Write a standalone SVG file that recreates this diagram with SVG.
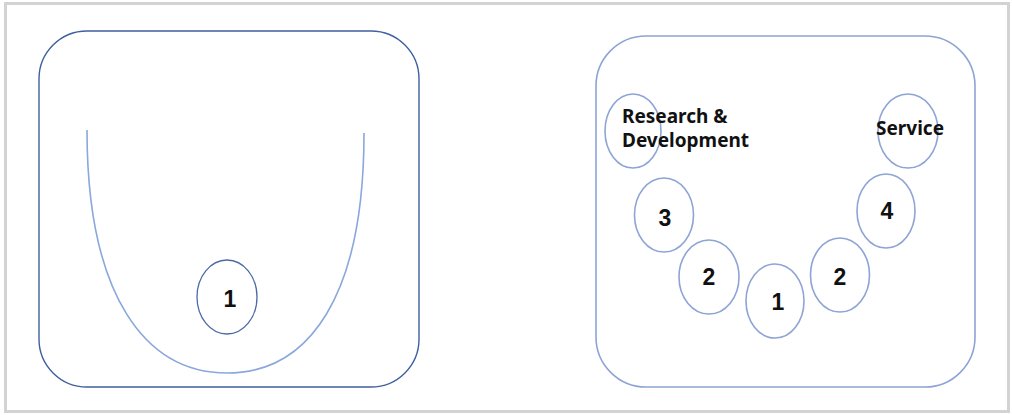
<svg xmlns="http://www.w3.org/2000/svg" width="1012" height="415" viewBox="0 0 1012 415">
<style>
.frame{fill:none;stroke:#d3d3d3;stroke-width:3}
.panelL{fill:#fff;stroke:#3f5f9f;stroke-width:1.4}
.panelR{fill:#fff;stroke:#8da4d4;stroke-width:1.6}
.curve{fill:none;stroke:#8aa8dc;stroke-width:1.6}
.circL{fill:none;stroke:#4d6aa6;stroke-width:1.3}
.circ{fill:none;stroke:#8da4d4;stroke-width:1.6}
.num{font-family:"Liberation Sans",Arial,sans-serif;font-weight:bold;font-size:23px;fill:#111;text-anchor:middle}
.lbl{font-family:"Noto Sans","Liberation Sans",sans-serif;font-weight:bold;font-size:19px;fill:#111}
</style>
<rect x="0" y="0" width="1012" height="415" fill="#fff"/>
<rect class="frame" x="5.5" y="3.5" width="1003" height="408"/>
<g id="left-panel">
<rect class="panelL" x="39" y="31" width="380" height="356" rx="48" ry="48"/>
<path class="curve" d="M87,130 C87,295 145,373 227,373 C310,373 364,295 364,133"/>
</g>
<g id="left-node-1">
<ellipse class="circL" cx="227" cy="297" rx="30" ry="37"/>
<text class="num" x="230" y="307">1</text>
</g>
<g id="right-panel">
<rect class="panelR" x="596" y="36" width="379" height="351" rx="50" ry="50"/>
</g>
<g id="node-rd">
<ellipse class="circ" cx="633" cy="131" rx="28" ry="37"/>
<text class="lbl" x="622" y="123">Research &amp;</text>
<text class="lbl" x="622" y="147">Development</text>
</g>
<g id="node-service">
<ellipse class="circ" cx="908" cy="131" rx="30" ry="37"/>
<text class="lbl" x="876" y="135">Service</text>
</g>
<g id="node-3">
<ellipse class="circ" cx="664" cy="215" rx="29.5" ry="37"/>
<text class="num" x="665" y="226">3</text>
</g>
<g id="node-2-left">
<ellipse class="circ" cx="709" cy="277" rx="30" ry="37"/>
<text class="num" x="709" y="285">2</text>
</g>
<g id="node-1">
<ellipse class="circ" cx="775" cy="301" rx="29" ry="37"/>
<text class="num" x="778" y="310">1</text>
</g>
<g id="node-2-right">
<ellipse class="circ" cx="840" cy="275" rx="29.5" ry="37"/>
<text class="num" x="840" y="285">2</text>
</g>
<g id="node-4">
<ellipse class="circ" cx="886" cy="211" rx="29" ry="37"/>
<text class="num" x="887" y="219">4</text>
</g>
<g id="connectors"></g>
</svg>
